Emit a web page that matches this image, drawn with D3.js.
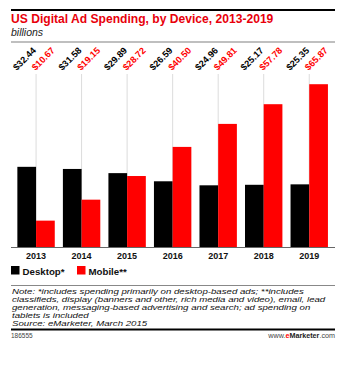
<!DOCTYPE html>
<html><head><meta charset="utf-8">
<script src="https://cdn.jsdelivr.net/npm/d3@7"></script>
<style>body{margin:0;background:#fff;}svg{display:block;font-family:"Liberation Sans",Arial,sans-serif;}</style>
</head><body>
<svg id="c" width="355" height="366"></svg>
<script>
const years = ["2013","2014","2015","2016","2017","2018","2019"];
const desktop = [32.44,31.58,29.89,26.59,24.96,25.17,25.35];
const mobile = [10.67,19.15,28.72,40.50,49.81,57.78,65.87];
const seriesNames = ["Desktop*","Mobile**"];
const colors = ["#000000","#ff0000"];
const noteLines = [
 "Note: *includes spending primarily on desktop-based ads; **includes",
 "classifieds, display (banners and other, rich media and video), email, lead",
 "generation, messaging-based advertising and search; ad spending on",
 "tablets is included",
 "Source: eMarketer, March 2015"
];

const svg = d3.select("#c");
svg.append("line").attr("x1",11).attr("x2",335).attr("y1",10).attr("y2",10).attr("stroke","#000").attr("stroke-width",2);
svg.append("text").attr("x",11).attr("y",23).attr("fill","#e8000b").attr("font-weight","bold").attr("font-size",12.1).text("US Digital Ad Spending, by Device, 2013-2019");
svg.append("text").attr("x",11).attr("y",36).attr("fill","#222").attr("font-style","italic").attr("font-size",10.5).text("billions");
svg.append("line").attr("x1",11).attr("x2",335).attr("y1",42).attr("y2",42).attr("stroke","#aaa").attr("stroke-width",1.5);

const x = d3.scaleBand().domain(years).range([13.3,332]).padding(0);
const y = d3.scaleLinear().domain([0,70]).range([247,74]);
const bw = 18.7;

const g = svg.append("g");
g.selectAll("line.grid").data(years).join("line")
 .attr("x1",d=>x(d)+x.bandwidth()/2).attr("x2",d=>x(d)+x.bandwidth()/2)
 .attr("y1",y(70)).attr("y2",y(0)).attr("stroke","#dcdcdc").attr("stroke-width",1);

const series = [desktop, mobile];
series.forEach((vals,si)=>{
  g.selectAll("rect.s"+si).data(years).join("rect").attr("class","s"+si)
   .attr("x",d=>x(d)+x.bandwidth()/2 + (si===0?-bw:0))
   .attr("y",(d,i)=>y(vals[i]))
   .attr("width",bw)
   .attr("height",(d,i)=>y(0)-y(vals[i]))
   .attr("fill",colors[si]);
  const lab = g.selectAll("g.l"+si).data(years).join("g").attr("class","l"+si)
   .attr("transform",d=>"translate(" + (x(d)+x.bandwidth()/2+(si===0?-bw:0)+bw/2-10) + ",71)");
  lab.append("text")
   .attr("transform","rotate(-45)")
   .attr("fill",colors[si]).attr("font-weight","bold").attr("font-size",9.2)
   .text((d,i)=>"$"+vals[i].toFixed(2));
});

svg.append("line").attr("x1",11).attr("x2",335).attr("y1",y(0)+0.5).attr("y2",y(0)+0.5).attr("stroke","#666").attr("stroke-width",1);

const xAxis = d3.axisBottom(x).tickSize(0).tickPadding(0);
const ax = svg.append("g").attr("transform",`translate(0,${y(0)+5.5})`).call(xAxis);
ax.select(".domain").remove();
ax.selectAll("text").attr("font-family","Liberation Sans, Arial, sans-serif").attr("font-weight","bold").attr("font-size",9).attr("fill","#111").attr("dy","0.71em");

const lg = svg.append("g");
const legX = [11,77];
seriesNames.forEach((n,i)=>{
  lg.append("rect").attr("x",legX[i]).attr("y",266).attr("width",8.5).attr("height",8.5).attr("fill",colors[i]);
  lg.append("text").attr("x",legX[i]+11.5).attr("y",274.5).attr("font-weight","bold").attr("font-size",9.7).attr("fill","#111").text(n);
});

svg.append("line").attr("x1",11).attr("x2",335).attr("y1",285.5).attr("y2",285.5).attr("stroke","#888").attr("stroke-width",1);
const note = svg.append("text").attr("transform","translate(12,293.5) scale(1.36,1)")
  .attr("font-style","italic").attr("font-size",7.1).attr("fill","#111");
noteLines.forEach((t,i)=>{
  note.append("tspan").attr("x",0).attr("y",i*8.25).text(t);
});
svg.append("line").attr("x1",11).attr("x2",335).attr("y1",329.5).attr("y2",329.5).attr("stroke","#000").attr("stroke-width",2);
svg.append("text").attr("x",11).attr("y",338).attr("font-size",6.5).attr("fill","#444").text("186555");
const ft = svg.append("text").attr("x",335).attr("y",338).attr("text-anchor","end").attr("font-size",7.2).attr("fill","#444");
ft.append("tspan").text("www.");
ft.append("tspan").attr("fill","#ff0000").attr("font-weight","bold").text("e");
ft.append("tspan").attr("font-weight","bold").attr("fill","#222").text("Marketer");
ft.append("tspan").text(".com");
</script>
</body></html>
